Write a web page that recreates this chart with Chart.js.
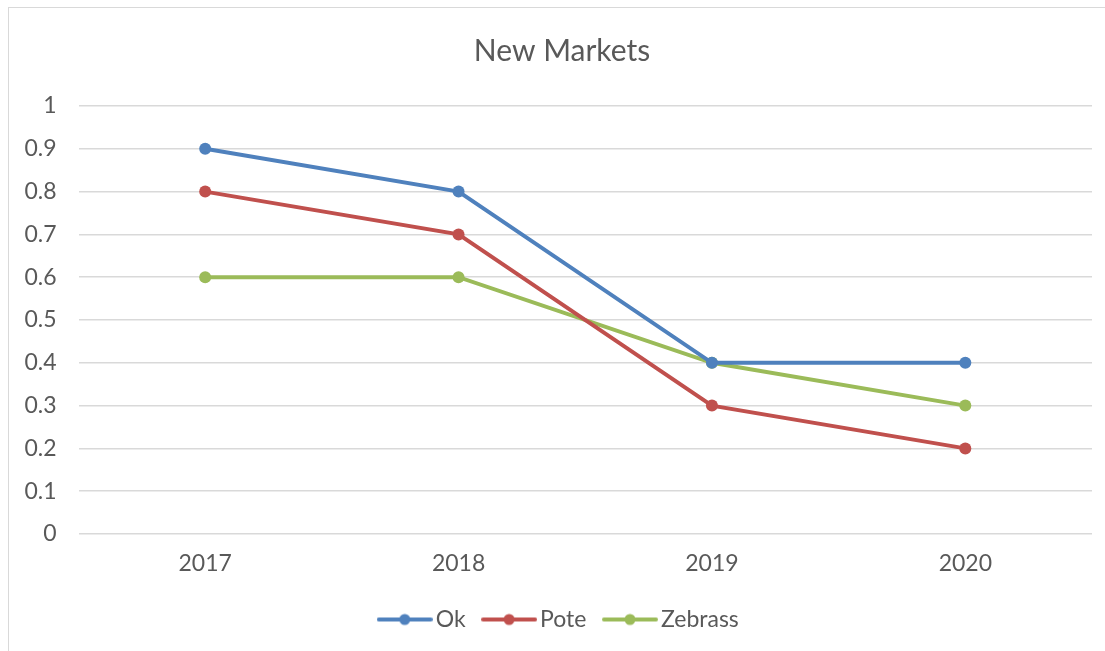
<!DOCTYPE html>
<html>
<head>
<meta charset="utf-8">
<title>New Markets</title>
<script src="https://cdn.jsdelivr.net/npm/chart.js@4.4.1/dist/chart.umd.min.js"></script>
<style>
  html, body { margin: 0; padding: 0; background: #fff; overflow: hidden; }
  #frame {
    position: absolute; left: 8px; top: 7px;
    width: 1106px; height: 650px;
    border-left: 1px solid #d9d9d9; border-top: 1px solid #d9d9d9;
  }
  #wrap { position: absolute; left: 0; top: 0; width: 1106px; height: 650px; }
</style>
</head>
<body>
<div id="frame"><div id="wrap"><canvas id="myChart"></canvas></div></div>
<script>
const years = ['2017', '2018', '2019', '2020'];
const okValues = [0.9, 0.8, 0.4, 0.4];
const poteValues = [0.8, 0.7, 0.3, 0.2];
const zebrassValues = [0.6, 0.6, 0.4, 0.3];

const textColor = '#595959';
const gridColor = '#d9d9d9';
const fontFamily = 'Lato, "Open Sans", sans-serif';

// little line-with-dot swatch for the legend
function lineMarker(color) {
    const c = document.createElement('canvas');
    c.width = 56;
    c.height = 14;
    const g = c.getContext('2d');
    g.strokeStyle = color;
    g.lineWidth = 4;
    g.lineCap = 'round';
    g.beginPath();
    g.moveTo(2, 7);
    g.lineTo(54, 7);
    g.stroke();
    g.fillStyle = color;
    g.beginPath();
    g.arc(28, 7, 5.5, 0, Math.PI * 2);
    g.fill();
    return c;
}

function series(label, data, color) {
    return {
        label: label,
        data: data,
        borderColor: color,
        backgroundColor: color,
        borderWidth: 4,
        pointRadius: 6,
        pointHoverRadius: 6,
        pointBorderWidth: 0,
        tension: 0,
        marker: lineMarker(color)
    };
}

// let the y labels use the left padding too, otherwise they get clipped
const yLabelRoom = {
    id: 'yLabelRoom',
    afterLayout: function(chart) {
        chart.scales.y.left = 0;
    }
};

const ctx = document.getElementById('myChart').getContext('2d');

new Chart(ctx, {
    type: 'line',
    data: {
        labels: years,
        datasets: [
            series('Ok', okValues, '#4f81bd'),
            series('Pote', poteValues, '#c0504d'),
            series('Zebrass', zebrassValues, '#9bbb59')
        ]
    },
    plugins: [yLabelRoom],
    options: {
        responsive: true,
        maintainAspectRatio: false,
        animation: false,
        layout: { padding: { left: 23, right: 23, top: 0, bottom: 17 } },
        plugins: {
            tooltip: { enabled: false },
            title: {
                display: true,
                text: 'New Markets',
                color: textColor,
                font: { family: fontFamily, size: 30, weight: 'normal' },
                padding: { top: 25, bottom: 37 }
            },
            legend: {
                position: 'bottom',
                labels: {
                    usePointStyle: true,
                    pointStyleWidth: 39,
                    padding: 24,
                    color: textColor,
                    font: { family: fontFamily, size: 23 },
                    generateLabels: function(chart) {
                        return chart.data.datasets.map(function(ds, i) {
                            return {
                                text: ds.label,
                                pointStyle: ds.marker,
                                fillStyle: ds.borderColor,
                                strokeStyle: ds.borderColor,
                                fontColor: textColor,
                                lineWidth: 0,
                                hidden: false,
                                datasetIndex: i
                            };
                        });
                    }
                }
            }
        },
        scales: {
            x: {
                offset: true,
                afterFit: function(scale) { scale.height = 50; },
                grid: { display: false, drawTicks: false },
                border: { display: false },
                ticks: {
                    color: textColor,
                    padding: 16,
                    font: { family: fontFamily, size: 23 }
                }
            },
            y: {
                min: 0,
                max: 1,
                afterFit: function(scale) { scale.width = 46.5; },
                grid: { color: gridColor, lineWidth: 1.5, drawTicks: false },
                border: { display: false },
                ticks: {
                    stepSize: 0.1,
                    color: textColor,
                    padding: 22,
                    font: { family: fontFamily, size: 23 },
                    callback: function(v) { return Math.round(v * 10) / 10; }
                }
            }
        }
    }
});
</script>
</body>
</html>
